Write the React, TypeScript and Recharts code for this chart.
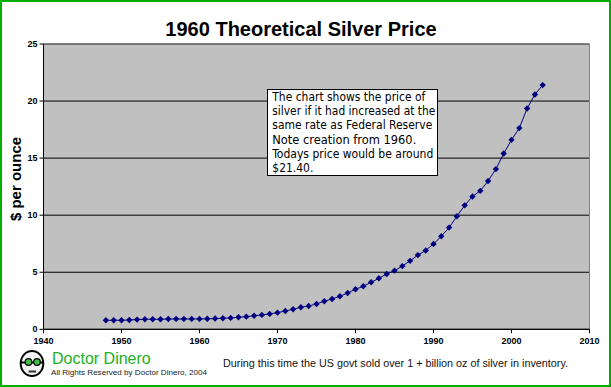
import { LineChart, Line, XAxis, YAxis, CartesianGrid, ReferenceLine } from "recharts";

const years = [
  1948, 1949, 1950, 1951, 1952, 1953, 1954, 1955, 1956, 1957,
  1958, 1959, 1960, 1961, 1962, 1963, 1964, 1965, 1966, 1967,
  1968, 1969, 1970, 1971, 1972, 1973, 1974, 1975, 1976, 1977,
  1978, 1979, 1980, 1981, 1982, 1983, 1984, 1985, 1986, 1987,
  1988, 1989, 1990, 1991, 1992, 1993, 1994, 1995, 1996, 1997,
  1998, 1999, 2000, 2001, 2002, 2003, 2004,
];

const prices = [
  0.79, 0.79, 0.79, 0.82, 0.85, 0.88, 0.88, 0.88, 0.9, 0.91,
  0.91, 0.91, 0.91, 0.92, 0.94, 0.97, 1.0, 1.05, 1.11, 1.19,
  1.26, 1.35, 1.46, 1.6, 1.76, 1.93, 2.04, 2.22, 2.46, 2.66,
  2.89, 3.18, 3.51, 3.77, 4.12, 4.47, 4.85, 5.14, 5.54, 6.0,
  6.5, 6.91, 7.48, 8.15, 8.91, 9.9, 10.86, 11.64, 12.13, 13.0,
  14.04, 15.4, 16.6, 17.63, 19.35, 20.58, 21.4,
];

const xTicks = [1940, 1950, 1960, 1970, 1980, 1990, 2000, 2010];
const yTicks = [0, 5, 10, 15, 20, 25];

const noteLines = [
  "The chart shows the price of",
  "silver if it had increased at the",
  "same rate as Federal Reserve",
  "Note creation from 1960.",
  "Todays price would be around",
  "$21.40.",
];
const noteWidths = [153, 163, 160, 144, 161, 41];

const data = years.map((year, i) => ({ year, price: prices[i] }));

const tickFont = {
  fontSize: 9,
  fontWeight: 700,
  fill: "#000",
  fontFamily: "Liberation Sans, Arial, sans-serif",
};

function Diamond(props: any) {
  const { cx, cy } = props;
  if (cx == null || cy == null) return null;
  const r = 3.2;
  return (
    <polygon
      points={`${cx},${cy - r} ${cx + r},${cy} ${cx},${cy + r} ${cx - r},${cy}`}
      fill="#000080"
    />
  );
}

export default function App() {
  return (
    <div
      style={{
        position: "absolute",
        top: 0,
        left: 0,
        width: 611,
        height: 387,
        background: "#fff",
        border: "2px solid #00b000",
        boxSizing: "border-box",
        overflow: "hidden",
      }}
    >
      <div style={{ position: "absolute", top: -2, left: -2 }}>
        <LineChart
          width={611}
          height={387}
          data={data}
          margin={{ top: 44, right: 21.5, left: 3.5, bottom: 37.7 }}
        >
          <CartesianGrid vertical={false} stroke="#000" fill="#c0c0c0" />
          <XAxis
            dataKey="year"
            type="number"
            domain={[1940, 2010]}
            ticks={xTicks}
            interval={0}
            height={20}
            tickSize={4}
            tickMargin={4}
            stroke="#000"
            tick={tickFont}
          />
          <YAxis
            type="number"
            domain={[0, 25]}
            ticks={yTicks}
            interval={0}
            width={40}
            tickSize={4}
            tickMargin={2}
            stroke="#000"
            tick={tickFont}
          />
          <ReferenceLine y={25} stroke="#808080" />
          <ReferenceLine x={2010} stroke="#808080" />
          <Line
            dataKey="price"
            type="linear"
            stroke="#000080"
            strokeWidth={1}
            dot={<Diamond />}
            activeDot={false}
            isAnimationActive={false}
          />
        </LineChart>
      </div>

      <svg
        width={611}
        height={387}
        style={{ position: "absolute", top: -2, left: -2, pointerEvents: "none" }}
      >
        <text
          x={301}
          y={35.8}
          textAnchor="middle"
          fontSize={20}
          fontWeight={700}
          fontFamily="Liberation Sans, Arial, sans-serif"
        >
          1960 Theoretical Silver Price
        </text>
        <text
          transform="translate(21,179) rotate(-90)"
          textAnchor="middle"
          fontSize={15}
          fontWeight={700}
          fontFamily="Liberation Sans, Arial, sans-serif"
        >
          $ per ounce
        </text>

        {/* note box */}
        <rect x={267.5} y={89.5} width={170} height={86} fill="#fff" stroke="#000" />
        {noteLines.map((line, i) => (
          <text
            key={i}
            x={272.3}
            y={100.7 + i * 14.3}
            fontSize={11.5}
            fontFamily="DejaVu Sans Condensed, Noto Sans, sans-serif"
            textLength={noteWidths[i]}
            lengthAdjust="spacingAndGlyphs"
          >
            {line}
          </text>
        ))}

        {/* logo */}
        <ellipse cx={32} cy={363.5} rx={11.3} ry={12.5} fill="#f4f4f4" stroke="#000" strokeWidth={2} />
        <line x1={20} y1={362.5} x2={44} y2={362.5} stroke="#000" strokeWidth={2} />
        <circle cx={28.5} cy={362} r={3.3} fill="#40c040" stroke="#000" strokeWidth={1.2} />
        <circle cx={37} cy={362} r={3.3} fill="#40c040" stroke="#000" strokeWidth={1.2} />
        <line x1={28.5} y1={371.5} x2={36} y2={371.5} stroke="#333" strokeWidth={2} />

        <text x={52} y={364} fontSize={16} fill="#22b022" fontFamily="Liberation Sans, Arial, sans-serif">
          Doctor Dinero
        </text>
        <text
          x={51}
          y={374.5}
          fontSize={8}
          fill="#222"
          fontFamily="Liberation Sans, Arial, sans-serif"
          textLength={156}
          lengthAdjust="spacingAndGlyphs"
        >
          All Rights Reserved by Doctor Dinero, 2004
        </text>
        <text
          x={223}
          y={366.5}
          fontSize={10.5}
          fill="#111"
          fontFamily="Liberation Sans, Arial, sans-serif"
          textLength={345}
          lengthAdjust="spacingAndGlyphs"
        >
          During this time the US govt sold over 1 + billion oz of silver in inventory.
        </text>
      </svg>
    </div>
  );
}
